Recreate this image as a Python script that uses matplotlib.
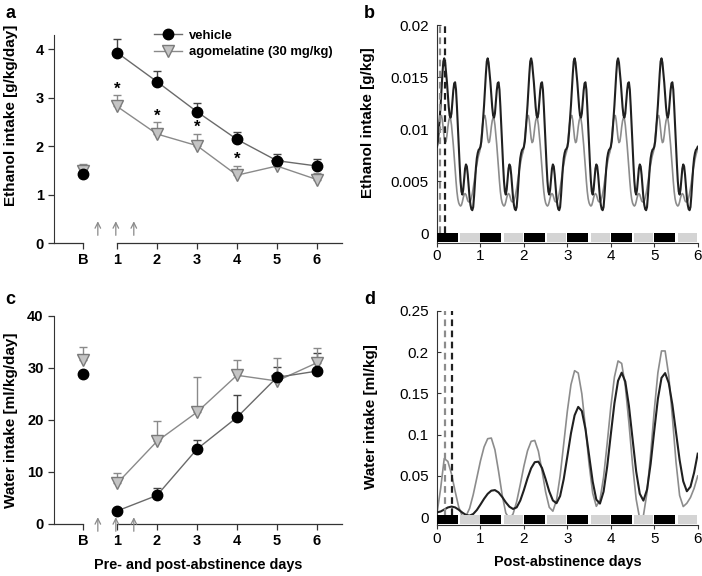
import numpy as np
import matplotlib
matplotlib.use("Agg")
import matplotlib.pyplot as plt
import matplotlib.transforms as mtransforms
from matplotlib.patches import Rectangle
from matplotlib.ticker import FuncFormatter

plt.rcParams['font.family'] = ['Liberation Sans', 'DejaVu Sans']

# ---- panels a / c : daily intake (B = baseline, then post-abstinence days)
day_labels = ['B', '1', '2', '3', '4', '5', '6']
day_pos = [0.15, 1, 2, 3, 4, 5, 6]
etoh_vehicle = [1.43, 3.93, 3.33, 2.71, 2.14, 1.70, 1.59]
etoh_vehicle_err = [0.12, 0.27, 0.22, 0.18, 0.15, 0.13, 0.14]
etoh_agomel = [1.48, 2.82, 2.25, 2.01, 1.40, 1.59, 1.31]
etoh_agomel_err = [0.15, 0.23, 0.25, 0.23, 0.19, 0.07, 0.14]
etoh_star_days = [1, 2, 3, 4]
etoh_star_y = [3.17, 2.62, 2.38, 1.73]
water_vehicle = [28.9, 2.5, 5.5, 14.4, 20.5, 28.2, 29.4]
water_vehicle_err = [0.0, 0.0, 1.4, 1.8, 4.4, 1.9, 3.5]
water_agomel = [31.6, 7.8, 15.9, 21.5, 28.6, 27.5, 31.0]
water_agomel_err = [2.4, 2.0, 4.0, 6.8, 3.0, 4.4, 2.9]
injection_days = [0.52, 0.97, 1.42]

# ---- panel b : fitted ethanol rhythm, one day profile (every 30 min), same each day
b_vehicle_day = [0.0083, 0.0088, 0.0098, 0.0110, 0.0123, 0.0138, 0.0153, 0.0165,
                 0.0168, 0.0164, 0.0155, 0.0145, 0.0133, 0.0121, 0.0113, 0.0111,
                 0.0115, 0.0126, 0.0137, 0.0144, 0.0145, 0.0138, 0.0122, 0.0103,
                 0.0085, 0.0066, 0.0050, 0.0040, 0.0037, 0.0042, 0.0052, 0.0062,
                 0.0066, 0.0064, 0.0056, 0.0045, 0.0034, 0.0027, 0.0023, 0.0022,
                 0.0025, 0.0036, 0.0050, 0.0063, 0.0072, 0.0077, 0.0080, 0.0081]
b_agomel_day = [0.0082, 0.0092, 0.0102, 0.0109, 0.0113, 0.0113, 0.0108, 0.0099,
                0.0091, 0.0087, 0.0088, 0.0094, 0.0102, 0.0108, 0.0111, 0.0110,
                0.0104, 0.0095, 0.0085, 0.0074, 0.0062, 0.0050, 0.0040, 0.0033,
                0.0029, 0.0027, 0.0026, 0.0027, 0.0030, 0.0034, 0.0037, 0.0038,
                0.0037, 0.0034, 0.0031, 0.0030, 0.0030, 0.0031, 0.0034, 0.0038,
                0.0043, 0.0049, 0.0055, 0.0061, 0.0066, 0.0071, 0.0075, 0.0078]
b_acrophase = {'agomel': 0.07, 'vehicle': 0.18}

# ---- panel d : fitted water rhythm, every 2 h over 6 days
d_vehicle = [0.0060, 0.0070, 0.0094, 0.0119, 0.0130, 0.0120, 0.0092, 0.0057, 0.0029,
             0.0020, 0.0040, 0.0088, 0.0154, 0.0224, 0.0284, 0.0322,
             0.0329, 0.0301, 0.0246, 0.0181, 0.0128, 0.0101, 0.0120, 0.0203,
             0.0330, 0.0472, 0.0594, 0.0667, 0.0673, 0.0597, 0.0461, 0.0313,
             0.0204, 0.0170, 0.0257, 0.0463, 0.0738, 0.1017, 0.1234, 0.1336,
             0.1286, 0.1068, 0.0750, 0.0432, 0.0214, 0.0166, 0.0310, 0.0614,
             0.1003, 0.1380, 0.1652, 0.1750, 0.1642, 0.1349, 0.0951, 0.0557,
             0.0285, 0.0202, 0.0335, 0.0647, 0.1049, 0.1433, 0.1687, 0.1745,
             0.1624, 0.1365, 0.1030, 0.0694, 0.0436, 0.0315, 0.0370, 0.0540, 0.0770]
d_agomel = [0.0050, 0.0346, 0.0711, 0.0676, 0.0525, 0.0317, 0.0124, 0.0012, 0.0014,
            0.0108, 0.0273, 0.0477, 0.0682, 0.0851, 0.0951, 0.0959,
            0.0817, 0.0557, 0.0270, 0.0052, -0.0020, 0.0040, 0.0189, 0.0397,
            0.0619, 0.0805, 0.0919, 0.0930, 0.0800, 0.0563, 0.0306, 0.0121,
            0.0074, 0.0206, 0.0500, 0.0890, 0.1286, 0.1606, 0.1774, 0.1746,
            0.1494, 0.1086, 0.0643, 0.0291, 0.0133, 0.0208, 0.0486, 0.0895,
            0.1336, 0.1698, 0.1892, 0.1862, 0.1589, 0.1142, 0.0640, 0.0219,
            -0.0022, 0.0019, 0.0301, 0.0767, 0.1295, 0.1749, 0.2013, 0.2013,
            0.1716, 0.1212, 0.0670, 0.0264, 0.0130, 0.0170, 0.0240, 0.0350, 0.0500]
d_acrophase = {'agomel': 0.18, 'vehicle': 0.34}

dark_start = [0, 1, 2, 3, 4, 5]

YLAB = dict(fontsize=11, fontweight='bold')
XLAB = dict(fontsize=10.4, fontweight='bold')
AX_COL = '#333333'


def daily_panel(ax, veh, veh_err, ago, ago_err, ylim, yticks, arrow_y):
    zeros = np.zeros(len(veh))
    ax.errorbar(day_pos, veh, yerr=[zeros, veh_err], fmt='none', ecolor='#444444',
                elinewidth=1, capsize=3, capthick=1, zorder=2)
    ax.errorbar(day_pos, ago, yerr=[zeros, ago_err], fmt='none', ecolor='#8a8a8a',
                elinewidth=1, capsize=3, capthick=1, zorder=2)
    lv, = ax.plot(day_pos[1:], veh[1:], color='#6a6a6a', lw=1, marker='o', ms=7.5,
                  mfc='black', mec='black', zorder=4, label='vehicle')
    ax.plot(day_pos[0], veh[0], 'o', ms=7.5, mfc='black', mec='black', zorder=4)
    la, = ax.plot(day_pos[1:], ago[1:], color='#8a8a8a', lw=1, marker='v', ms=8.3,
                  mfc='#c4c4c4', mec='#7a7a7a', zorder=3, label='agomelatine (30 mg/kg)')
    ax.plot(day_pos[0], ago[0], 'v', ms=8.3, mfc='#c4c4c4', mec='#7a7a7a', zorder=3)

    ax.set_xlim(-0.575, 6.625)
    ax.set_ylim(*ylim)
    ax.set_yticks(yticks)
    ax.set_xticks(day_pos)
    ax.set_xticklabels(day_labels)
    for s in ['top', 'right', 'bottom']:
        ax.spines[s].set_visible(False)
    ax.spines['left'].set_color(AX_COL)
    ax.spines['left'].set_bounds(0, ylim[1])
    # broken x axis between baseline and day 1
    ax.plot([-0.575, day_pos[0]], [0, 0], color=AX_COL, lw=0.9, clip_on=False)
    ax.plot([1, 6.625], [0, 0], color=AX_COL, lw=0.9, clip_on=False)
    ax.tick_params(axis='both', length=4, width=0.9, color=AX_COL, labelsize=10.5)
    ax.tick_params(axis='x', pad=3)
    for lab in ax.get_xticklabels() + ax.get_yticklabels():
        lab.set_fontweight('bold')
    for xd in injection_days:
        ax.annotate('', xy=(xd, arrow_y[1]), xytext=(xd, arrow_y[0]),
                    arrowprops=dict(arrowstyle='->', color='#8a8a8a', lw=0.9,
                                    shrinkA=0, shrinkB=0), annotation_clip=False)
    return lv, la


def rhythm_panel(ax, t, veh, ago, acro, ylim, yticks):
    ax.plot(t, ago, color='#8c8c8c', lw=1.2, zorder=2)
    ax.plot(t, veh, color='#202020', lw=1.5, zorder=3)
    ax.set_xlim(0, 6)
    ax.set_ylim(*ylim)
    ax.set_yticks(yticks)
    ax.yaxis.set_major_formatter(FuncFormatter(lambda v, p: '%g' % round(v, 4)))
    ax.set_xticks(range(7))
    for s in ['top', 'right']:
        ax.spines[s].set_visible(False)
    ax.spines['left'].set_color(AX_COL)
    ax.spines['bottom'].set_color(AX_COL)
    ax.tick_params(axis='y', direction='in', length=3, color=AX_COL, labelsize=11, pad=6)
    ax.tick_params(axis='x', direction='out', length=3, color=AX_COL, labelsize=11, pad=1.5)
    trans = mtransforms.blended_transform_factory(ax.transData, ax.transAxes)
    for d0 in dark_start:
        ax.add_patch(Rectangle((d0, 0.004), 0.48, 0.042, transform=trans,
                               facecolor='black', edgecolor='none', zorder=5, clip_on=False))
        ax.add_patch(Rectangle((d0 + 0.54, 0.004), 0.44, 0.042, transform=trans,
                               facecolor='#d4d4d4', edgecolor='none', zorder=5, clip_on=False))
    ax.axvline(acro['agomel'], ymin=0.046, ymax=1, color='#8c8c8c', lw=1.6,
               ls=(0, (3, 2)), zorder=4)
    ax.axvline(acro['vehicle'], ymin=0.046, ymax=1, color='#202020', lw=1.6,
               ls=(0, (3, 2)), zorder=4)


fig = plt.figure(figsize=(7.02, 5.76), dpi=100)

ax_a = fig.add_axes([0.077, 0.578, 0.410, 0.361])
ax_b = fig.add_axes([0.6225, 0.578, 0.3714, 0.3785])
ax_c = fig.add_axes([0.077, 0.0903, 0.410, 0.3611])
ax_d = fig.add_axes([0.6225, 0.088, 0.3714, 0.3726])

# a
lv, la = daily_panel(ax_a, etoh_vehicle, etoh_vehicle_err, etoh_agomel, etoh_agomel_err,
                     (0, 4.29), [0, 1, 2, 3, 4], (0.16, 0.45))
for xd, yd in zip(etoh_star_days, etoh_star_y):
    ax_a.text(xd, yd, '*', ha='center', va='center', fontsize=12, fontweight='bold')
ax_a.set_ylabel('Ethanol intake [g/kg/day]', **YLAB)
ax_a.yaxis.set_label_coords(-0.125, 0.615)
ax_a.legend(handles=[lv, la], loc='upper left', bbox_to_anchor=(147 / 702, 1 - 23 / 576),
            bbox_transform=fig.transFigure, frameon=False, handlelength=2.2,
            borderpad=0, labelspacing=0.35, handletextpad=0.5,
            prop=dict(family='Liberation Sans', weight='bold', size=9.4))

# c
daily_panel(ax_c, water_vehicle, water_vehicle_err, water_agomel, water_agomel_err,
            (0, 40), [0, 10, 20, 30, 40], (-1.4, 1.3))
ax_c.set_ylabel('Water intake [ml/kg/day]', **YLAB)
ax_c.yaxis.set_label_coords(-0.125, 0.5)
ax_c.set_xlabel('Pre- and post-abstinence days', **XLAB)
ax_c.xaxis.set_label_coords(0.5, -0.165)

# b
t_b = np.arange(6 * 48 + 1) / 48
b_vehicle = np.append(np.tile(b_vehicle_day, 6), b_vehicle_day[0])
b_agomel = np.append(np.tile(b_agomel_day, 6), b_agomel_day[0])
rhythm_panel(ax_b, t_b, b_vehicle, b_agomel, b_acrophase, (-0.00096, 0.02),
             [0, 0.005, 0.01, 0.015, 0.02])
ax_b.set_ylabel('Ethanol intake [g/kg]', **YLAB)
ax_b.yaxis.set_label_coords(-0.238, 0.553)

# d
t_d = np.arange(len(d_vehicle)) / 12
rhythm_panel(ax_d, t_d, d_vehicle, d_agomel, d_acrophase, (-0.0097, 0.25),
             [0, 0.05, 0.1, 0.15, 0.2, 0.25])
ax_d.set_ylabel('Water intake [ml/kg]', **YLAB)
ax_d.yaxis.set_label_coords(-0.227, 0.507)
ax_d.set_xlabel('Post-abstinence days', **XLAB)
ax_d.xaxis.set_label_coords(0.5, -0.14)

for letter, (px, py) in zip('abcd', [(5, 14), (364, 14), (5, 299), (364, 299)]):
    fig.text(px / 702, 1 - py / 576, letter, fontsize=13, fontweight='bold',
             ha='left', va='center')

fig.savefig('out.png', dpi=100)
